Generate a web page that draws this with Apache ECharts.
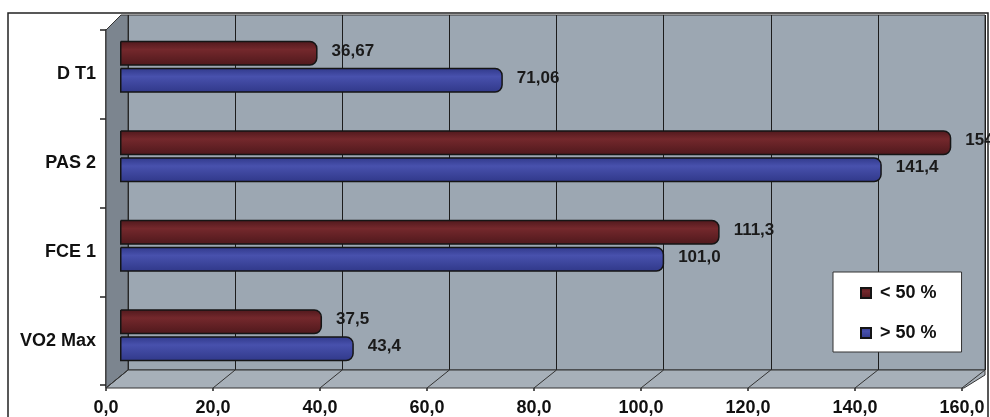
<!DOCTYPE html>
<html>
<head>
<meta charset="utf-8">
<script src="https://cdn.jsdelivr.net/npm/echarts@6/dist/echarts.min.js"></script>
<style>
  html, body { margin: 0; padding: 0; background: #ffffff; }
  #chart { width: 990px; height: 417px; }
</style>
</head>
<body>
<div id="chart"></div>
<script>
// Categories, top to bottom
const categories = ['D T1', 'PAS 2', 'FCE 1', 'VO2 Max'];
// Series values
const lowGroup = [36.67, 154.3, 111.3, 37.5];   // < 50 %
const highGroup = [71.06, 141.4, 101.0, 43.4];  // > 50 %
// Decimals shown in the value labels, per category
const labelDecimals = [2, 1, 1, 1];
const seriesNames = ['< 50 %', '> 50 %'];
// Value axis ticks
const xMin = 0, xMax = 160, xStep = 20;

const FONT = '"Liberation Sans", Arial, sans-serif';
const WALL = '#9ca7b2';
const SIDE = '#7c858f';
const FLOOR = '#a7b0b9';

function fmt(v, d) { return v.toFixed(d).replace('.', ','); }

function barStyle(base, light) {
  return {
    color: {
      type: 'linear', x: 0, y: 0, x2: 0, y2: 1,
      colorStops: [
        { offset: 0, color: base },
        { offset: 0.35, color: light },
        { offset: 1, color: base }
      ]
    },
    borderColor: '#151515',
    borderWidth: 1.5,
    borderRadius: [0, 7, 7, 0]
  };
}

const chart = echarts.init(document.getElementById('chart'), null, { renderer: 'canvas' });

const makeSeries = (name, values, base, light) => ({
  name: name,
  type: 'bar',
  xAxisIndex: 1,
  yAxisIndex: 1,
  data: values.map((v, i) => ({
    value: v,
    label: { formatter: fmt(v, labelDecimals[i]) }
  })),
  barWidth: 25,
  barGap: '8%',
  itemStyle: barStyle(base, light),
  label: {
    show: true,
    position: 'right',
    distance: 14,
    offset: [0, -2],
    color: '#1a1a1a',
    fontFamily: FONT,
    fontWeight: 'bold',
    fontSize: 17
  },
  z: 3
});

const option = {
  backgroundColor: '#ffffff',
  animation: false,
  graphic: [
    // outer frame
    { type: 'polyline', shape: { points: [[8, 417], [8, 13], [988, 13], [988, 417]] },
      style: { stroke: '#222', lineWidth: 1.5, fill: null }, z: 0 },
    // side wall
    { type: 'polygon', shape: { points: [[106, 30], [121, 15], [128, 15], [128, 370], [106, 388]] },
      style: { fill: SIDE, stroke: '#333', lineWidth: 1 }, z: 1 },
    // floor
    { type: 'polygon', shape: { points: [[106, 388], [128, 370], [985, 370], [985, 375], [964, 388]] },
      style: { fill: FLOOR, stroke: '#333', lineWidth: 1 }, z: 1 }
  ],
  legend: {
    orient: 'vertical',
    left: 833,
    top: 272,
    width: 134,
    padding: [12, 25, 10, 27],
    itemGap: 22,
    itemWidth: 10,
    itemHeight: 10,
    backgroundColor: '#ffffff',
    borderColor: '#333',
    borderWidth: 1,
    icon: 'rect',
    textStyle: { fontFamily: FONT, fontWeight: 'bold', fontSize: 18, color: '#111', padding: [0, 0, 0, 4] },
    data: seriesNames,
    z: 10
  },
  grid: [
    // back wall
    { left: 128, right: 5, top: 15, bottom: 47, show: true, backgroundColor: WALL, borderColor: '#333', borderWidth: 1 },
    // bars
    { left: 120, right: 8, top: 22, bottom: 37 },
    // front axes
    { left: 106, right: 28, top: 30, bottom: 29 }
  ],
  xAxis: [
    { gridIndex: 0, type: 'value', min: xMin, max: xMax, interval: xStep,
      axisLabel: { show: false }, axisTick: { show: false }, axisLine: { show: false },
      splitLine: { show: true, lineStyle: { color: '#1c1c1c', width: 1 } } },
    { gridIndex: 1, type: 'value', min: xMin, max: xMax, interval: xStep,
      axisLabel: { show: false }, axisTick: { show: false }, axisLine: { show: false },
      splitLine: { show: false } },
    { gridIndex: 2, type: 'value', min: xMin, max: xMax, interval: xStep, position: 'bottom',
      axisLine: { show: true, lineStyle: { color: '#222', width: 1.5 } },
      axisTick: { show: true, length: 6, lineStyle: { color: '#222', width: 1.5 } },
      axisLabel: { show: true, margin: 14, color: '#111', fontFamily: FONT, fontWeight: 'bold', fontSize: 18,
        formatter: v => fmt(v, 1) },
      splitLine: { show: false } }
  ],
  yAxis: [
    { gridIndex: 0, type: 'category', data: categories, inverse: true, show: false },
    { gridIndex: 1, type: 'category', data: categories, inverse: true, show: false },
    { gridIndex: 2, type: 'category', data: categories, inverse: true,
      axisLine: { show: true, lineStyle: { color: '#222', width: 1.5 } },
      axisTick: { show: true, length: 6, lineStyle: { color: '#222', width: 1.5 } },
      axisLabel: { margin: 10, color: '#111', fontFamily: FONT, fontWeight: 'bold', fontSize: 18 } }
  ],
  series: [
    makeSeries(seriesNames[0], lowGroup, '#4e181c', '#74282c'),
    makeSeries(seriesNames[1], highGroup, '#303889', '#4851ad')
  ]
};

chart.setOption(option);

// Depth lines across the floor, from each front tick to the matching back-wall gridline
const floorLines = [];
for (let v = xMin; v <= xMax; v += xStep) {
  const front = chart.convertToPixel({ xAxisIndex: 2 }, v);
  const back = chart.convertToPixel({ xAxisIndex: 0 }, v);
  floorLines.push({
    type: 'line',
    shape: { x1: front, y1: 388, x2: back, y2: 370 },
    style: { stroke: '#333', lineWidth: 1 },
    z: 2
  });
}
chart.setOption({ graphic: option.graphic.concat(floorLines) });
</script>
</body>
</html>
